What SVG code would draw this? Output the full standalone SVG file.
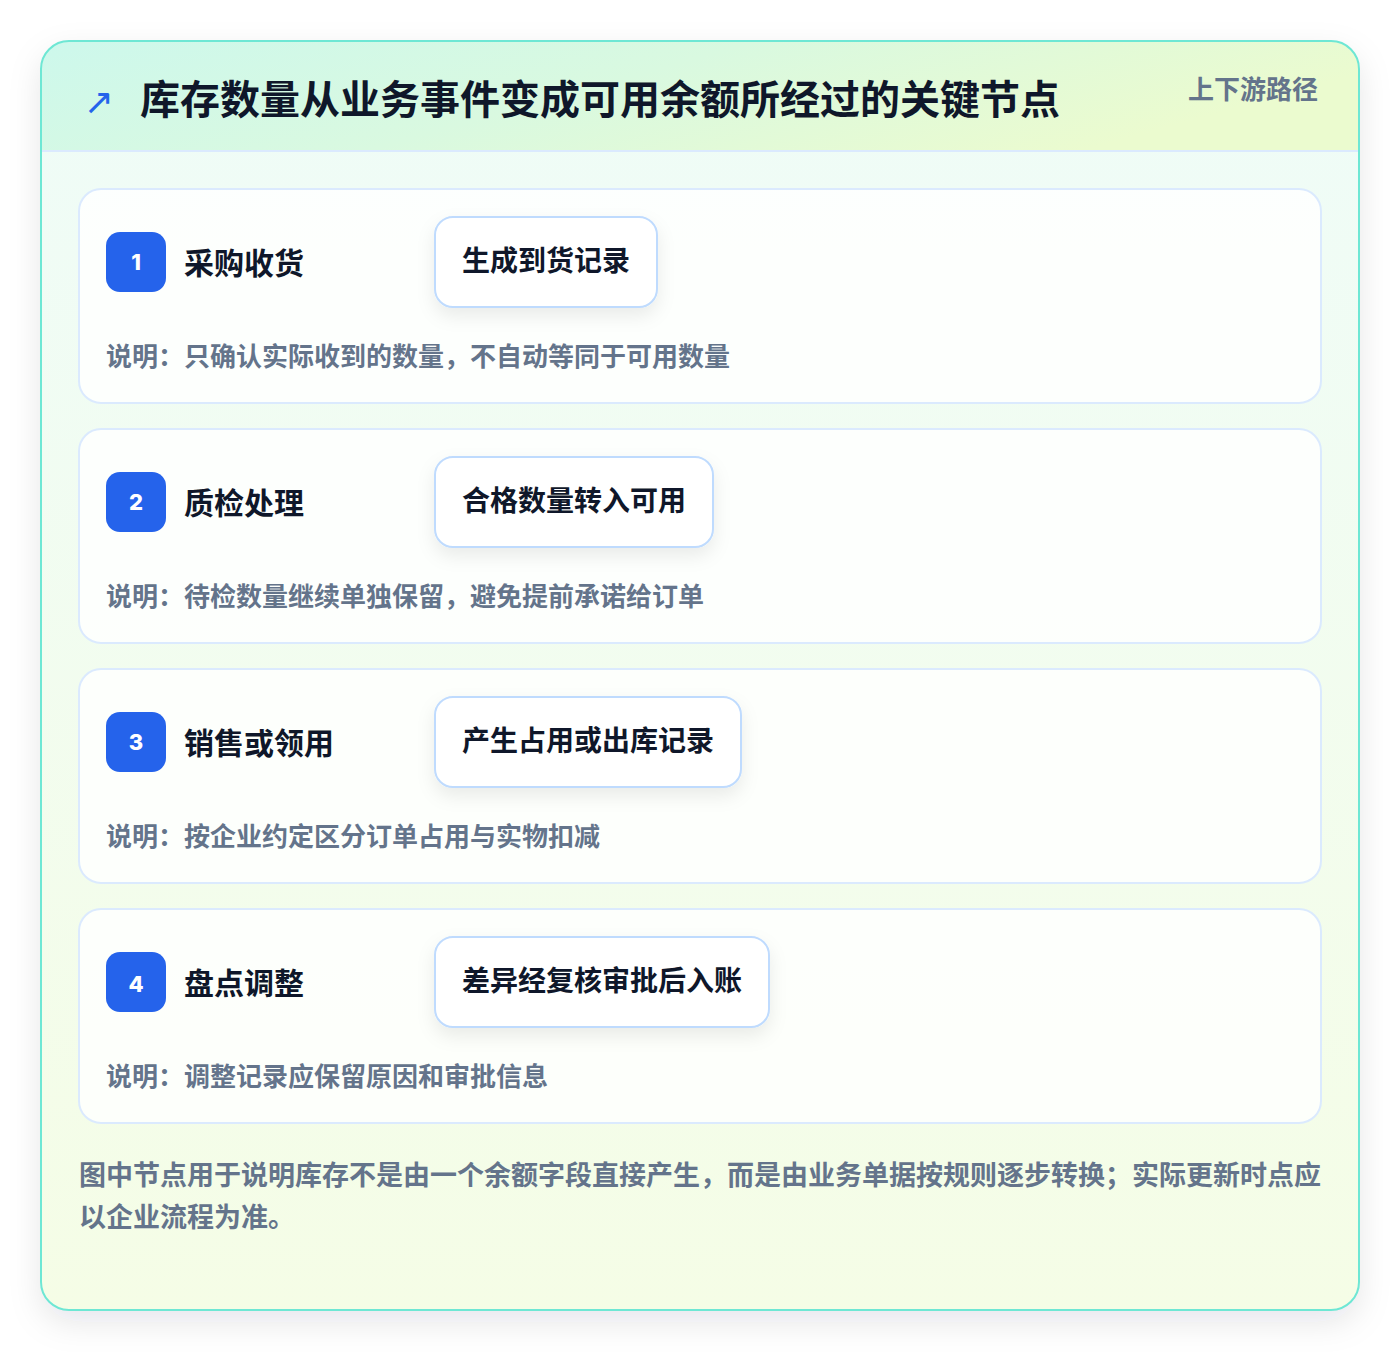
<svg xmlns="http://www.w3.org/2000/svg" width="1400" height="1352" viewBox="0 0 1400 1352">
<defs>
<linearGradient id="hdr" x1="0" y1="0" x2="1" y2="0.3"><stop offset="0" stop-color="#cdf8ec"/><stop offset="0.5" stop-color="#d9f9e0"/><stop offset="1" stop-color="#ebfbcf"/></linearGradient>
<linearGradient id="body" x1="0" y1="0" x2="0" y2="1"><stop offset="0" stop-color="#effcf8"/><stop offset="1" stop-color="#f5fde6"/></linearGradient>
<clipPath id="cardClip"><rect x="41" y="41" width="1318" height="1269" rx="28"/></clipPath>
<filter id="outerShadow" x="-10%" y="-10%" width="120%" height="120%"><feDropShadow dx="0" dy="12" stdDeviation="16" flood-color="#0f172a" flood-opacity="0.10"/></filter>
<filter id="boxShadow" x="-20%" y="-30%" width="140%" height="170%"><feDropShadow dx="0" dy="8" stdDeviation="9" flood-color="#0f172a" flood-opacity="0.08"/></filter>
<style>
text{font-family:Inter,"Noto Sans CJK SC",sans-serif;font-weight:700}
.sec{fill:#ffffff;fill-opacity:0.82;stroke:#dbeafe;stroke-width:2}
.badge{fill:#2563eb}
.num{fill:#ffffff;font-size:22px;font-weight:800}
.lbl{fill:#0f172a;font-size:30px}
.box{fill:#ffffff;stroke:#bfdbfe;stroke-width:2}
.btx{fill:#0f172a;font-size:28px}
.desc{fill:#64748b;font-size:26px}
</style>
</defs>
<rect width="1400" height="1352" fill="#ffffff"/>
<g id="card">
<rect x="41" y="41" width="1318" height="1269" rx="28" fill="url(#body)" filter="url(#outerShadow)"/>
<g clip-path="url(#cardClip)">
<rect x="41" y="41" width="1318" height="110" fill="url(#hdr)"/>
<line x1="41" y1="151" x2="1359" y2="151" stroke="#dbeafe" stroke-width="2"/>
</g>
<rect x="41" y="41" width="1318" height="1269" rx="28" fill="none" stroke="#6ee7d4" stroke-width="2"/>
</g>
<g id="header">
<text x="84" y="114" font-size="36" fill="#2563eb" style="font-family:'DejaVu Sans',sans-serif;font-weight:400">↗</text>
<text x="140" y="114" font-size="40" fill="#0f172a">库存数量从业务事件变成可用余额所经过的关键节点</text>
<text x="1318" y="99" font-size="26" fill="#64748b" text-anchor="end">上下游路径</text>
</g>
<g id="step1">
<rect class="sec" x="79" y="189" width="1242" height="214" rx="22"/>
<rect class="badge" x="106" y="232" width="60" height="60" rx="14"/>
<text class="num" x="136" y="270" text-anchor="middle">1</text>
<text class="lbl" x="184" y="274">采购收货</text>
<rect class="box" x="435" y="217" width="222" height="90" rx="18" filter="url(#boxShadow)"/>
<text class="btx" x="462" y="271">生成到货记录</text>
<text class="desc" x="106" y="366">说明：只确认实际收到的数量，不自动等同于可用数量</text>
</g>
<g id="step2">
<rect class="sec" x="79" y="429" width="1242" height="214" rx="22"/>
<rect class="badge" x="106" y="472" width="60" height="60" rx="14"/>
<text class="num" x="136" y="510" text-anchor="middle">2</text>
<text class="lbl" x="184" y="514">质检处理</text>
<rect class="box" x="435" y="457" width="278" height="90" rx="18" filter="url(#boxShadow)"/>
<text class="btx" x="462" y="511">合格数量转入可用</text>
<text class="desc" x="106" y="606">说明：待检数量继续单独保留，避免提前承诺给订单</text>
</g>
<g id="step3">
<rect class="sec" x="79" y="669" width="1242" height="214" rx="22"/>
<rect class="badge" x="106" y="712" width="60" height="60" rx="14"/>
<text class="num" x="136" y="750" text-anchor="middle">3</text>
<text class="lbl" x="184" y="754">销售或领用</text>
<rect class="box" x="435" y="697" width="306" height="90" rx="18" filter="url(#boxShadow)"/>
<text class="btx" x="462" y="751">产生占用或出库记录</text>
<text class="desc" x="106" y="846">说明：按企业约定区分订单占用与实物扣减</text>
</g>
<g id="step4">
<rect class="sec" x="79" y="909" width="1242" height="214" rx="22"/>
<rect class="badge" x="106" y="952" width="60" height="60" rx="14"/>
<text class="num" x="136" y="992" text-anchor="middle">4</text>
<text class="lbl" x="184" y="994">盘点调整</text>
<rect class="box" x="435" y="937" width="334" height="90" rx="18" filter="url(#boxShadow)"/>
<text class="btx" x="462" y="991">差异经复核审批后入账</text>
<text class="desc" x="106" y="1086">说明：调整记录应保留原因和审批信息</text>
</g>
<g id="footer">
<text x="79" y="1185" font-size="27" fill="#64748b">图中节点用于说明库存不是由一个余额字段直接产生，而是由业务单据按规则逐步转换；实际更新时点应</text>
<text x="79" y="1227" font-size="27" fill="#64748b">以企业流程为准。</text>
</g>
<g id="connectors"/>
</svg>
